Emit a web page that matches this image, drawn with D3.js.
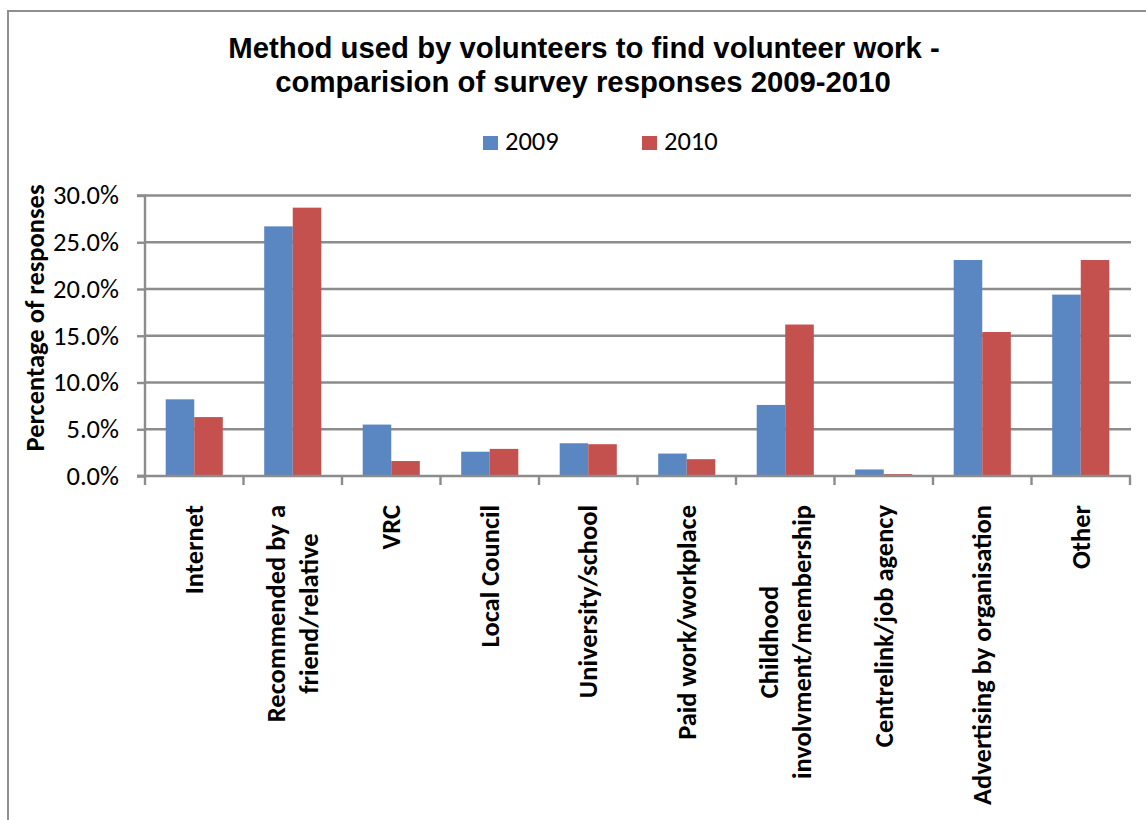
<!DOCTYPE html>
<html>
<head>
<meta charset="utf-8">
<script src="https://cdn.jsdelivr.net/npm/d3@7"></script>
<style>
  html, body { margin: 0; padding: 0; background: #fff; }
  svg { display: block; }
</style>
</head>
<body>
<svg id="chart" width="1146" height="820"></svg>
<script>
// Survey categories (x axis) and their wrapped label lines
const categories = [
  "Internet",
  "Recommended by a friend/relative",
  "VRC",
  "Local Council",
  "University/school",
  "Paid work/workplace",
  "Childhood involvment/membership",
  "Centrelink/job agency",
  "Advertising by organisation",
  "Other"
];
const categoryLines = [
  ["Internet"],
  ["Recommended by a", "friend/relative"],
  ["VRC"],
  ["Local Council"],
  ["University/school"],
  ["Paid work/workplace"],
  ["Childhood", "involvment/membership"],
  ["Centrelink/job agency"],
  ["Advertising by organisation"],
  ["Other"]
];

// Share of responses (fraction) per category
const series = ["2009", "2010"];
const values2009 = [0.082, 0.267, 0.055, 0.026, 0.035, 0.024, 0.076, 0.007, 0.231, 0.194];
const values2010 = [0.063, 0.287, 0.016, 0.029, 0.034, 0.018, 0.162, 0.002, 0.154, 0.231];

const yTicks = [0, 0.05, 0.10, 0.15, 0.20, 0.25, 0.30];

const colors = { "2009": "#5A87C1", "2010": "#C5514E" };
const gridColor = "#8c8c8c";
const bodyFont = "Carlito, Calibri, Lato, sans-serif";
const bodySize = "26.5px";

const svg = d3.select("#chart");

// Outer chart frame
svg.append("rect")
  .attr("x", 8).attr("y", 11)
  .attr("width", 1160).attr("height", 830)
  .attr("fill", "none")
  .attr("stroke", "#8f8f8f")
  .attr("stroke-width", 2);

// Title
const title = svg.append("text")
  .attr("text-anchor", "middle")
  .style("font-family", "'Liberation Sans', Arial, sans-serif")
  .style("font-weight", "bold")
  .style("font-size", "29.3px")
  .attr("fill", "#000");
title.append("tspan").attr("x", 584).attr("y", 58)
  .text("Method used by volunteers to find volunteer work -");
title.append("tspan").attr("x", 583).attr("y", 92)
  .text("comparision of survey responses 2009-2010");

// Plot area
const plot = { left: 145, right: 1130, top: 195.5, bottom: 476 };

const x0 = d3.scaleBand()
  .domain(categories)
  .range([plot.left, plot.right])
  .paddingInner(0)
  .paddingOuter(0);

const groupInset = 20.7;
const x1 = d3.scaleBand()
  .domain(series)
  .range([groupInset, x0.bandwidth() - groupInset])
  .padding(0);

const y = d3.scaleLinear()
  .domain([0, 0.30])
  .range([plot.bottom, plot.top]);

// Horizontal gridlines
svg.append("g")
  .selectAll("line")
  .data(yTicks.filter(t => t > 0))
  .join("line")
  .attr("x1", plot.left).attr("x2", plot.right + 1)
  .attr("y1", d => y(d)).attr("y2", d => y(d))
  .attr("stroke", gridColor)
  .attr("stroke-width", 2.4);

// Bars
const rows = categories.map((c, i) => ({
  category: c,
  vals: [
    { key: "2009", value: values2009[i] },
    { key: "2010", value: values2010[i] }
  ]
}));

svg.append("g")
  .selectAll("g")
  .data(rows)
  .join("g")
  .attr("transform", d => `translate(${x0(d.category)},0)`)
  .selectAll("rect")
  .data(d => d.vals)
  .join("rect")
  .attr("x", d => x1(d.key))
  .attr("width", x1.bandwidth())
  .attr("y", d => y(d.value))
  .attr("height", d => y(0) - y(d.value))
  .attr("fill", d => colors[d.key]);

// Y axis
const yAxis = d3.axisLeft(y)
  .tickValues(yTicks)
  .tickSize(8)
  .tickPadding(18)
  .tickFormat(d3.format(".1%"));

const yAxisG = svg.append("g")
  .attr("transform", `translate(${plot.left},0)`)
  .call(yAxis);
yAxisG.select(".domain")
  .attr("stroke", gridColor)
  .attr("stroke-width", 2.4)
  .attr("d", `M-8,${plot.top}H0V${plot.bottom}H-8`);
yAxisG.selectAll(".tick line").attr("stroke", gridColor).attr("stroke-width", 2.4);
yAxisG.selectAll(".tick text")
  .style("font-family", bodyFont)
  .style("font-size", bodySize)
  .attr("fill", "#000");

// X axis baseline and category boundary ticks
const boundaries = categories.map(c => x0(c)).concat([plot.right]);
svg.append("line")
  .attr("x1", plot.left - 8).attr("x2", plot.right + 1)
  .attr("y1", plot.bottom).attr("y2", plot.bottom)
  .attr("stroke", gridColor)
  .attr("stroke-width", 2.4);
svg.append("g")
  .selectAll("line")
  .data(boundaries)
  .join("line")
  .attr("x1", d => d).attr("x2", d => d)
  .attr("y1", plot.bottom).attr("y2", plot.bottom + 9)
  .attr("stroke", gridColor)
  .attr("stroke-width", 2.4);

// Rotated category labels, wrapped lines centred on each other
const lineGap = 33;
const labelTop = 505;
const labelG = svg.append("g")
  .selectAll("g")
  .data(categories)
  .join("g")
  .attr("transform", d => `translate(${x0(d) + x0.bandwidth() / 2},${labelTop}) rotate(-90)`);

labelG.each(function (d, i) {
  const lines = categoryLines[i];
  const g = d3.select(this);
  const texts = lines.map((ln, j) => {
    const off = (j - (lines.length - 1) / 2) * lineGap;
    return g.append("text")
      .attr("y", off)
      .attr("dy", "0.34em")
      .attr("text-anchor", "middle")
      .style("font-family", bodyFont)
      .style("font-weight", "bold")
      .style("font-size", bodySize)
      .attr("fill", "#000")
      .text(ln);
  });
  // the longest line ends at the top edge of the label area
  const w = Math.max(...texts.map(t => t.node().getComputedTextLength()));
  texts.forEach(t => t.attr("x", -w / 2));
});

// Y axis title
svg.append("text")
  .attr("transform", "translate(35,318) rotate(-90)")
  .attr("text-anchor", "middle")
  .attr("dy", "0.34em")
  .style("font-family", bodyFont)
  .style("font-weight", "bold")
  .style("font-size", bodySize)
  .attr("fill", "#000")
  .text("Percentage of responses");

// Legend
const legend = svg.append("g")
  .selectAll("g")
  .data(series)
  .join("g")
  .attr("transform", (d, i) => `translate(${483 + i * 159},136)`);
legend.append("rect")
  .attr("width", 15).attr("height", 14)
  .attr("fill", d => colors[d]);
legend.append("text")
  .attr("x", 22).attr("y", 14)
  .style("font-family", bodyFont)
  .style("font-size", bodySize)
  .attr("fill", "#000")
  .text(d => d);
</script>
</body>
</html>
